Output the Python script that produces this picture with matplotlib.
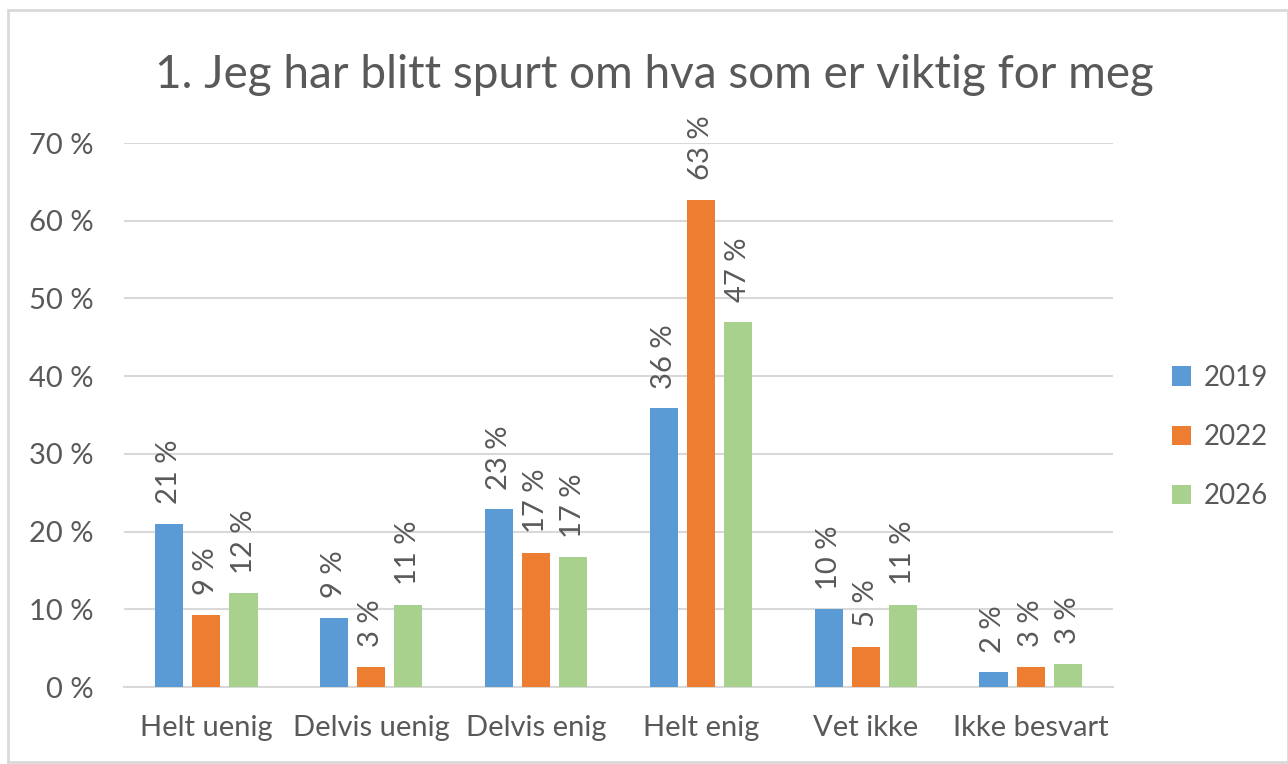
import matplotlib
matplotlib.use("Agg")
import matplotlib.pyplot as plt
import numpy as np

categories = ["Helt uenig", "Delvis uenig", "Delvis enig", "Helt enig", "Vet ikke", "Ikke besvart"]
series_names = ["2019", "2022", "2026"]
v2019 = [21.0, 8.9, 22.9, 35.9, 10.0, 1.9]
v2022 = [9.3, 2.6, 17.3, 62.7, 5.2, 2.6]
v2026 = [12.1, 10.6, 16.7, 47.0, 10.6, 3.0]
yticks = [0, 10, 20, 30, 40, 50, 60, 70]
title = "1. Jeg har blitt spurt om hva som er viktig for meg"

colors = ["#5B9BD5", "#ED7D31", "#A9D18E"]
text_col = "#595959"
plt.rcParams['font.family'] = ['Lato', 'DejaVu Sans']

fig = plt.figure(figsize=(12.88, 7.64), dpi=100)
ax = fig.add_axes([124/1288, 1 - 687/764, (1113-124)/1288, (687-143)/764])

x = np.arange(len(categories))
w = 0.17
step = 0.225
for i, (vals, name) in enumerate(zip([v2019, v2022, v2026], series_names)):
    pos = x + (i - 1) * step
    ax.bar(pos, vals, width=w, color=colors[i], label=name, zorder=3)
    for p, v in zip(pos, vals):
        ax.annotate(f"{v:.0f} %", (p, v), xytext=(0, 14), textcoords="offset points",
                    rotation=90, ha="center", va="bottom", fontsize=21, color=text_col)

ax.set_xlim(-0.5, len(categories) - 0.5)
ax.set_ylim(0, 70)
ax.set_yticks(yticks)
ax.set_yticklabels([f"{t} %" for t in yticks])
ax.set_xticks(x)
ax.set_xticklabels(categories)
ax.tick_params(axis="both", length=0, labelsize=21, colors=text_col)
ax.tick_params(axis="y", pad=22)
ax.tick_params(axis="x", pad=20)
ax.grid(axis="y", color="#D9D9D9", linewidth=1.5, zorder=0)
for s in ["top", "right", "left"]:
    ax.spines[s].set_visible(False)
ax.spines["bottom"].set_color("#D9D9D9")
ax.spines["bottom"].set_linewidth(1.5)

fig.text(654/1288, 1 - 75/764, title, ha="center", va="center", fontsize=33, color=text_col)

leg = fig.legend(loc="center left", bbox_to_anchor=(1147/1288, 1 - 437/764), frameon=False,
                 fontsize=20, handlelength=0.7, handleheight=0.7, handletextpad=0.45,
                 labelspacing=1.2, labelcolor=text_col)

border = plt.Rectangle((8/1288, 1 - 762/764), (1288-8)/1288, (762-10)/764, transform=fig.transFigure,
                       fill=False, edgecolor="#D9D9D9", linewidth=2)
fig.patches.append(border)

fig.savefig("out.png", dpi=100)
